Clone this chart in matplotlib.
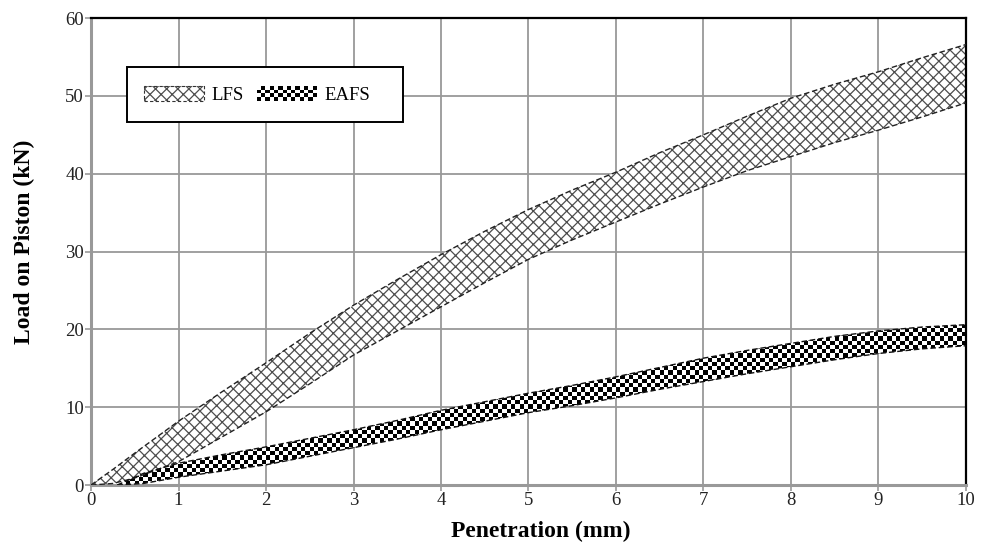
import numpy as np
import matplotlib
matplotlib.use("Agg")
import matplotlib.pyplot as plt
from matplotlib.patches import Rectangle
from matplotlib.legend_handler import HandlerBase

plt.rcParams['font.family'] = ['Liberation Serif', 'DejaVu Serif']
plt.rcParams['hatch.linewidth'] = 0.9

# ---- data ----
lfs_x = [0, 0.25, 0.5, 1, 1.5, 2, 2.5, 3, 3.5, 4, 4.5, 5, 5.5, 6, 6.5, 7, 7.5, 8, 8.5, 9, 9.5, 10]
lfs_upper = [0, 2.0, 4.1, 8.2, 12.0, 15.7, 19.5, 23.1, 26.4, 29.6, 32.6, 35.4, 37.9, 40.2, 42.7, 45.0, 47.4, 49.7, 51.5, 53.1, 54.9, 56.6]
lfs_lower = [0, 0.2, 0.9, 3.0, 6.2, 9.4, 13.0, 16.7, 19.8, 22.9, 26.0, 29.0, 31.5, 33.8, 36.1, 38.3, 40.4, 42.2, 44.0, 45.6, 47.3, 49.1]

eafs_x = [0.3, 0.6, 1, 1.5, 2, 2.5, 3, 3.5, 4, 4.5, 5, 5.5, 6, 6.5, 7, 7.5, 8, 8.5, 9, 9.5, 10]
eafs_upper = [0, 1.5, 2.8, 3.9, 4.9, 6.0, 7.1, 8.3, 9.6, 10.7, 11.8, 12.8, 13.9, 15.1, 16.3, 17.3, 18.2, 19.1, 19.8, 20.3, 20.6]
eafs_lower = [0, 0.2, 1.0, 1.8, 2.6, 3.7, 4.8, 5.9, 7.1, 8.2, 9.3, 10.2, 11.2, 12.3, 13.3, 14.3, 15.2, 16.1, 16.9, 17.5, 17.9]

x_ticks = list(range(0, 11))
y_ticks = list(range(0, 61, 10))
series_labels = ['LFS', 'EAFS']

GRAY = '#999999'

fig = plt.figure(figsize=(9.86, 5.47), dpi=100)
ax = fig.add_axes([0.0923, 0.1133, 0.8874, 0.8537])
ax.set_xlim(0, 10)
ax.set_ylim(0, 60)
ax.set_xticks(x_ticks)
ax.set_yticks(y_ticks)
ax.grid(True, color=GRAY, linewidth=1.3, zorder=0)
ax.set_axisbelow(True)

for s in ['left', 'bottom']:
    ax.spines[s].set_color(GRAY)
    ax.spines[s].set_linewidth(2.2)
for s in ['top', 'right']:
    ax.spines[s].set_color('black')
    ax.spines[s].set_linewidth(1.6)
ax.tick_params(axis='both', colors=GRAY, length=4, width=1.2, labelsize=13.5,
               labelcolor='#222222', pad=1)

# LFS band: crosshatch
lfs_poly = ax.fill_between(lfs_x, lfs_lower, lfs_upper, facecolor='white',
                           edgecolor='#4d4d4d', hatch='xxx', linewidth=0, zorder=2)
ax.plot(lfs_x, lfs_upper, color='#222222', lw=1.0, ls=(0, (4, 2)), zorder=3)
ax.plot(lfs_x, lfs_lower, color='#222222', lw=1.0, ls=(0, (4, 2)), zorder=3)

# EAFS band: checkerboard texture clipped to the band
eafs_poly = ax.fill_between(eafs_x, eafs_lower, eafs_upper, facecolor='white',
                            linewidth=0, zorder=2)
nx, ny = 200, 110
ii, jj = np.meshgrid(np.arange(nx), np.arange(ny))
checker = ((ii + jj) % 2).astype(float)
im = ax.imshow(checker, extent=(0, 10, 0, 60), aspect='auto', cmap='gray',
               interpolation='nearest', origin='lower', zorder=2.5, vmin=0, vmax=1)
im.set_clip_path(eafs_poly.get_paths()[0], transform=ax.transData)
ax.plot(eafs_x, eafs_upper, color='#111111', lw=1.0, ls=(0, (4, 2)), zorder=3)
ax.plot(eafs_x, eafs_lower, color='#111111', lw=1.0, ls=(0, (4, 2)), zorder=3)
ax.set_xlim(0, 10)
ax.set_ylim(0, 60)


class CheckerHandler(HandlerBase):
    def create_artists(self, legend, orig_handle, xdescent, ydescent, width,
                       height, fontsize, trans):
        arts = [Rectangle((-xdescent, -ydescent), width, height, facecolor='white',
                          edgecolor='none', transform=trans)]
        n_x, n_y = 14, 4
        cw, ch = width / n_x, height / n_y
        for i in range(n_x):
            for j in range(n_y):
                if (i + j) % 2 == 0:
                    arts.append(Rectangle((-xdescent + i * cw, -ydescent + j * ch), cw, ch,
                                          facecolor='black', edgecolor='none',
                                          transform=trans))
        return arts


class HatchHandler(HandlerBase):
    def create_artists(self, legend, orig_handle, xdescent, ydescent, width,
                       height, fontsize, trans):
        r = Rectangle((-xdescent, -ydescent), width, height, facecolor='white',
                      edgecolor='#4d4d4d', hatch='xxx', linewidth=0, transform=trans)
        b = Rectangle((-xdescent, -ydescent), width, height, facecolor='none',
                      edgecolor='#333333', linewidth=0.8, linestyle=(0, (3, 2)),
                      transform=trans)
        return [r, b]


# legend frame box
frame = Rectangle((0.041, 0.777), 0.3154, 0.1178, transform=ax.transAxes,
                  facecolor='white', edgecolor='black', linewidth=1.4, zorder=4)
ax.add_patch(frame)

h1 = Rectangle((0, 0), 1, 1)
h2 = Rectangle((0, 0), 1, 1)
leg = ax.legend([h1, h2], series_labels, ncol=2, loc='center left',
                bbox_to_anchor=(0.0606, 0.835),
                handler_map={h1: HatchHandler(), h2: CheckerHandler()},
                fontsize=13.5, frameon=False,
                handlelength=3.2, handleheight=0.8, columnspacing=0.7,
                handletextpad=0.4, borderpad=0, borderaxespad=0)
leg.set_zorder(5)

ax.set_xlabel('Penetration (mm)', fontsize=17, fontweight='bold')
ax.set_ylabel('Load on Piston (kN)', fontsize=17, fontweight='bold')
ax.xaxis.set_label_coords(0.514, -0.077)
ax.yaxis.set_label_coords(-0.064, 0.52)

fig.savefig('out.png', dpi=100)
